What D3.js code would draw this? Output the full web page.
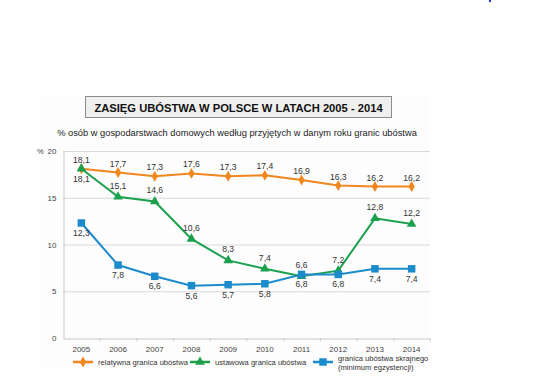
<!DOCTYPE html>
<html>
<head>
<meta charset="utf-8">
<script src="https://cdn.jsdelivr.net/npm/d3@7"></script>
<style>
  body { margin: 0; background: #fff; }
  svg { display: block; font-family: "Liberation Sans", Arial, sans-serif; }
</style>
</head>
<body>
<div id="chart"></div>
<script>
const years = ['2005','2006','2007','2008','2009','2010','2011','2012','2013','2014'];
const relatywna = [18.1, 17.7, 17.3, 17.6, 17.3, 17.4, 16.9, 16.3, 16.2, 16.2];
const ustawowa = [18.1, 15.1, 14.6, 10.6, 8.3, 7.4, 6.6, 7.2, 12.8, 12.2];
const skrajna = [12.3, 7.8, 6.6, 5.6, 5.7, 5.8, 6.8, 6.8, 7.4, 7.4];
const yTicks = [0, 5, 10, 15, 20];

const width = 541, height = 380;
const margin = { left: 63, right: 111, top: 151, bottom: 42 };

const svg = d3.select('#chart').append('svg')
  .attr('width', width)
  .attr('height', height);

// faint panel behind the chart
svg.append('rect')
  .attr('x', 40).attr('y', 96)
  .attr('width', 390).attr('height', 273)
  .attr('fill', '#fdfdfd');

// stray dot in top right corner
svg.append('rect')
  .attr('x', 489).attr('y', 0)
  .attr('width', 2).attr('height', 2)
  .attr('fill', '#2b3bd6');

// title box
svg.append('rect')
  .attr('x', 85.5).attr('y', 96.5)
  .attr('width', 306).attr('height', 21)
  .attr('fill', '#efefef')
  .attr('stroke', '#8c8c8c');
svg.append('text')
  .attr('x', 238.5).attr('y', 111.5)
  .attr('text-anchor', 'middle')
  .attr('font-size', 11.2)
  .attr('font-weight', 'bold')
  .attr('fill', '#111')
  .text('ZASIĘG UBÓSTWA W POLSCE W LATACH 2005 - 2014');

svg.append('text')
  .attr('x', 237).attr('y', 136)
  .attr('text-anchor', 'middle')
  .attr('font-size', 9.3)
  .attr('fill', '#222')
  .text('% osób w gospodarstwach domowych według przyjętych w danym roku granic ubóstwa');

const x = d3.scaleBand()
  .domain(years)
  .range([margin.left, width - margin.right]);

const y = d3.scaleLinear()
  .domain([0, 20])
  .range([height - margin.bottom, margin.top]);

const cx = d => x(d) + x.bandwidth() / 2;

// gridlines
svg.append('g')
  .selectAll('line')
  .data(yTicks.filter(d => d > 0))
  .enter()
    .append('line')
    .attr('x1', margin.left)
    .attr('x2', width - margin.right)
    .attr('y1', d => y(d) + 0.5)
    .attr('y2', d => y(d) + 0.5)
    .attr('stroke', '#d9d9d9')
    .attr('stroke-width', 1);

// y axis
const yAxis = svg.append('g')
  .attr('transform', `translate(${margin.left + 0.5},0)`)
  .call(d3.axisLeft(y).tickValues(yTicks).tickSize(0).tickPadding(7));
yAxis.select('.domain').attr('stroke', '#c8c8c8');
yAxis.selectAll('text').attr('font-size', 8).attr('fill', '#444').attr('font-family', 'Liberation Sans, Arial, sans-serif');

svg.append('text')
  .attr('x', 37).attr('y', 154)
  .attr('font-size', 7.5).attr('fill', '#444')
  .text('%');

// x axis
const xAxis = svg.append('g')
  .attr('transform', `translate(0,${y(0) + 0.5})`)
  .call(d3.axisBottom(x).tickSize(0).tickPadding(8));
xAxis.select('.domain').attr('stroke', '#c8c8c8');
xAxis.selectAll('text').attr('font-size', 8).attr('fill', '#444').attr('font-family', 'Liberation Sans, Arial, sans-serif');
xAxis.selectAll('.sep')
  .data(years.slice(1).concat(['end']))
  .enter()
    .append('line')
    .attr('class', 'sep')
    .attr('x1', (d, i) => margin.left + (i + 1) * x.step() + 0.5)
    .attr('x2', (d, i) => margin.left + (i + 1) * x.step() + 0.5)
    .attr('y1', 0).attr('y2', 3)
    .attr('stroke', '#d0d0d0');

const series = [
  { name: 'relatywna granica ubóstwa', values: relatywna, color: '#F0861E', marker: d3.symbolDiamond, size: 34, above: 6, labelPos: i => 'above' },
  { name: 'ustawowa granica ubóstwa', values: ustawowa, color: '#1BA04E', marker: d3.symbolTriangle, size: 40, above: 8, labelPos: i => i === 0 ? 'below' : 'above' },
  { name: 'granica ubóstwa skrajnego', values: skrajna, color: '#1B8BCB', marker: d3.symbolSquare, size: 56, above: 6, labelPos: i => 'below' }
];

const line = d3.line()
  .x((d, i) => cx(years[i]))
  .y(d => y(d));

series.forEach(s => {
  svg.append('path')
    .datum(s.values)
    .attr('d', line)
    .attr('fill', 'none')
    .attr('stroke', s.color)
    .attr('stroke-width', 2);

  svg.append('g')
    .selectAll('path')
    .data(s.values)
    .enter()
      .append('path')
      .attr('transform', (d, i) => `translate(${cx(years[i])},${y(d)})`)
      .attr('d', d3.symbol().type(s.marker).size(s.size))
      .attr('fill', s.color);
});

// data labels
series.forEach(s => {
  svg.append('g')
    .selectAll('text')
    .data(s.values)
    .enter()
      .append('text')
      .attr('x', (d, i) => cx(years[i]))
      .attr('y', (d, i) => s.labelPos(i) === 'above' ? y(d) - s.above : y(d) + 13)
      .attr('text-anchor', 'middle')
      .attr('font-size', 8.6)
      .attr('fill', '#333')
      .text(d => d3.format('.1f')(d).replace('.', ','));
});

// legend
const legend = [
  { x: 73, text: ['relatywna granica ubóstwa'] },
  { x: 190, text: ['ustawowa granica ubóstwa'] },
  { x: 313, text: ['granica ubóstwa skrajnego', '(minimum egzystencji)'] }
];
const ly = 362;
legend.forEach((l, k) => {
  const s = series[k];
  svg.append('line')
    .attr('x1', l.x).attr('x2', l.x + 20)
    .attr('y1', ly).attr('y2', ly)
    .attr('stroke', s.color).attr('stroke-width', 2.5);
  svg.append('path')
    .attr('transform', `translate(${l.x + 10},${ly})`)
    .attr('d', d3.symbol().type(s.marker).size(s.size))
    .attr('fill', s.color);
  const t = svg.append('text')
    .attr('x', l.x + 25)
    .attr('y', l.text.length > 1 ? ly - 1 : ly + 3)
    .attr('font-size', 7.6)
    .attr('fill', '#333');
  l.text.forEach((line, j) => {
    t.append('tspan').attr('x', l.x + 25).attr('dy', j === 0 ? 0 : 8.5).text(line);
  });
});
</script>
</body>
</html>
